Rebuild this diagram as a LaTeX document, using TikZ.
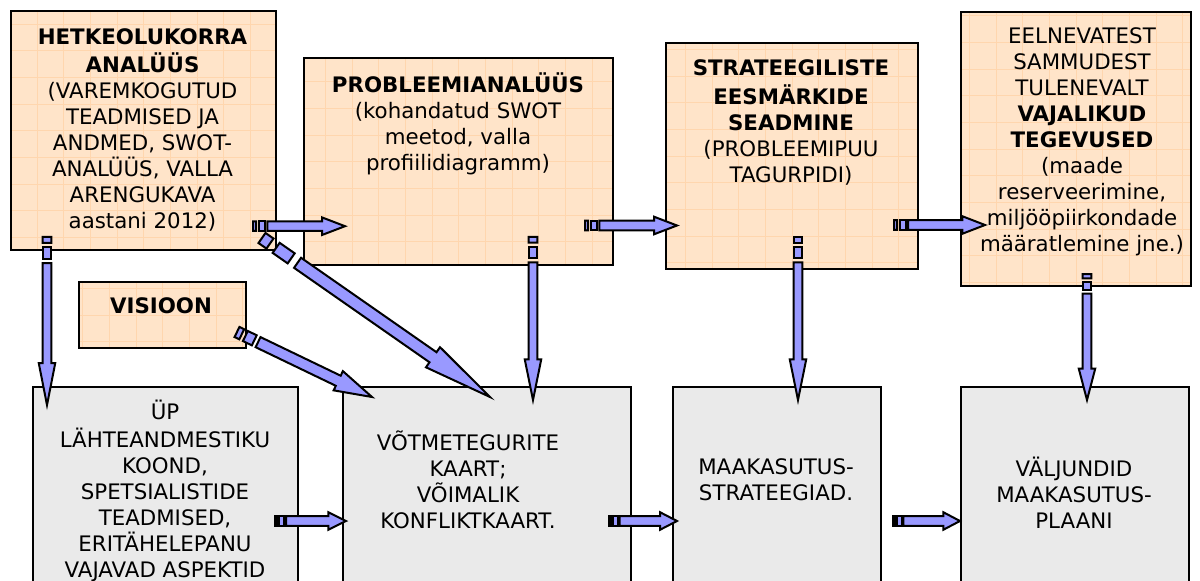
\documentclass[tikz,border=0pt]{standalone}
\usepackage{fontspec}
\setmainfont{DejaVu Sans}
\usetikzlibrary{calc}
\definecolor{peach}{HTML}{FFE4C9}
\definecolor{peachgrid}{HTML}{FFD6AE}
\definecolor{greybox}{HTML}{EAEAEA}
\definecolor{arrowblue}{HTML}{9999FF}
\tikzset{
  obox/.style={fill=peach, draw=black, line width=1.6pt, inner sep=0pt, anchor=north west,
    path picture={\draw[peachgrid, line width=0.5pt, step=20pt] (path picture bounding box.south west) grid (path picture bounding box.north east);}},
  gbox/.style={fill=greybox, draw=black, line width=1.6pt, inner sep=0pt, anchor=north west},
  txt/.style={align=center, inner sep=0pt, anchor=north, font=\fontsize{16}{19.5}\selectfont},
  blk/.style={fill=arrowblue, draw=black, line width=1.5pt, line join=miter},
}
\newcommand\pbox[6]{\node[#2, minimum width={(#5-#3)*0.75pt}, minimum height={(#6-#4)*0.75pt}] (#1) at (#3,#4) {};}
\newcommand\sarr[4]{%
  \path[blk] ($(#1)!0!(#2)!#3!90:(#2)$) -- ($(#1)!0.035!(#2)!#3!90:(#2)$) -- ($(#1)!0.035!(#2)!-#3!90:(#2)$) -- ($(#1)!0!(#2)!-#3!90:(#2)$) -- cycle;
  \path[blk] ($(#1)!0.062!(#2)!#3!90:(#2)$) -- ($(#1)!0.128!(#2)!#3!90:(#2)$) -- ($(#1)!0.128!(#2)!-#3!90:(#2)$) -- ($(#1)!0.062!(#2)!-#3!90:(#2)$) -- cycle;
  \path[blk] ($(#1)!0.156!(#2)!#3!90:(#2)$) -- ($(#1)!0.75!(#2)!#3!90:(#2)$) -- ($(#1)!0.75!(#2)!#4!90:(#2)$) -- (#2) -- ($(#1)!0.75!(#2)!-#4!90:(#2)$) -- ($(#1)!0.75!(#2)!-#3!90:(#2)$) -- ($(#1)!0.156!(#2)!-#3!90:(#2)$) -- cycle;
}
\begin{document}
\begin{tikzpicture}[x=0.75pt, y=-0.75pt]
\useasboundingbox (0,0) rectangle (1200,581);
\clip (0,0) rectangle (1200,581);
\fill[white] (0,0) rectangle (1200,581);

% top boxes
\pbox{b1}{obox}{10}{10}{275}{249}
\pbox{b2}{obox}{303}{57}{612}{264}
\pbox{b3}{obox}{665}{42}{917}{268}
\pbox{b4}{obox}{960}{11}{1190}{285}
\pbox{vis}{obox}{78}{281}{245}{347}
% bottom boxes
\pbox{c1}{gbox}{32}{386}{297}{600}
\pbox{c2}{gbox}{342}{386}{630}{600}
\pbox{c3}{gbox}{672}{386}{880}{600}
\pbox{c4}{gbox}{960}{386}{1188}{600}

% texts
\node[txt] (t1) at (142.5,25.6) {\strut\textbf{HETKEOLUKORRA}\\\textbf{ANALÜÜS}\\(VAREMKOGUTUD\\TEADMISED JA\\ANDMED, SWOT-\\ANALÜÜS, VALLA\\ARENGUKAVA\\aastani 2012)};
\node[txt] (t2) at (458,72.6) {\strut\textbf{PROBLEEMIANALÜÜS}\\(kohandatud SWOT\\meetod, valla\\profiilidiagramm)};
\node[txt] (t3) at (791,57.1) {\strut\textbf{STRATEEGILISTE}\\\textbf{EESMÄRKIDE}\\\textbf{SEADMINE}\\(PROBLEEMIPUU\\TAGURPIDI)};
\node[txt] (t4) at (1082,25.2) {\strut EELNEVATEST\\SAMMUDEST\\TULENEVALT\\\textbf{VAJALIKUD}\\\textbf{TEGEVUSED}\\(maade\\reserveerimine,\\miljööpiirkondade\\määratlemine jne.)};
\node[txt] (tv) at (161,294.6) {\strut\textbf{VISIOON}};
\node[txt] (u1) at (165,399.4) {\strut ÜP\\LÄHTEANDMESTIKU\\KOOND,\\SPETSIALISTIDE\\TEADMISED,\\ERITÄHELEPANU\\VAJAVAD ASPEKTID};
\node[txt] (u2) at (468,430.5) {\strut VÕTMETEGURITE\\KAART;\\VÕIMALIK\\KONFLIKTKAART.};
\node[txt] (u3) at (776,456.5) {\strut MAAKASUTUS-\\STRATEEGIAD.};
\node[txt] (u4) at (1074,456.5) {\strut VÄLJUNDID\\MAAKASUTUS-\\PLAANI};

% arrow end points
\coordinate (h1s) at (253,226.2);   \coordinate (h1e) at (345,226.2);
\coordinate (h2s) at (585,225.5);   \coordinate (h2e) at (677,225.5);
\coordinate (h3s) at (894,225);     \coordinate (h3e) at (985,225);
\coordinate (h4s) at (275,521);     \coordinate (h4e) at (346,521);
\coordinate (h5s) at (609,521);     \coordinate (h5e) at (677,521);
\coordinate (h6s) at (893,521);     \coordinate (h6e) at (960,521);
\coordinate (v1s) at (47,237);      \coordinate (v1e) at (47,405);
\coordinate (v2s) at (533,237);     \coordinate (v2e) at (533,400);
\coordinate (v3s) at (798,237);     \coordinate (v3e) at (798,400);
\coordinate (v4s) at (1087,274);    \coordinate (v4e) at (1087,400);
\coordinate (d1s) at (262,238);     \coordinate (d1e) at (490,397);
\coordinate (d2s) at (237,332);     \coordinate (d2e) at (372,397);

\sarr{h1s}{h1e}{3.6pt}{6.6pt}
\sarr{h2s}{h2e}{3.6pt}{6.6pt}
\sarr{h3s}{h3e}{3.6pt}{6.6pt}
\sarr{h4s}{h4e}{3.6pt}{6.6pt}
\sarr{h5s}{h5e}{3.6pt}{6.6pt}
\sarr{h6s}{h6e}{3.6pt}{6.6pt}
\sarr{v1s}{v1e}{3.3pt}{6.2pt}
\sarr{v2s}{v2e}{3.3pt}{6.2pt}
\sarr{v3s}{v3e}{3.3pt}{6.2pt}
\sarr{v4s}{v4e}{3.3pt}{6.2pt}
\sarr{d1s}{d1e}{4.6pt}{9.2pt}
\sarr{d2s}{d2e}{4.2pt}{8pt}
\end{tikzpicture}
\end{document}
